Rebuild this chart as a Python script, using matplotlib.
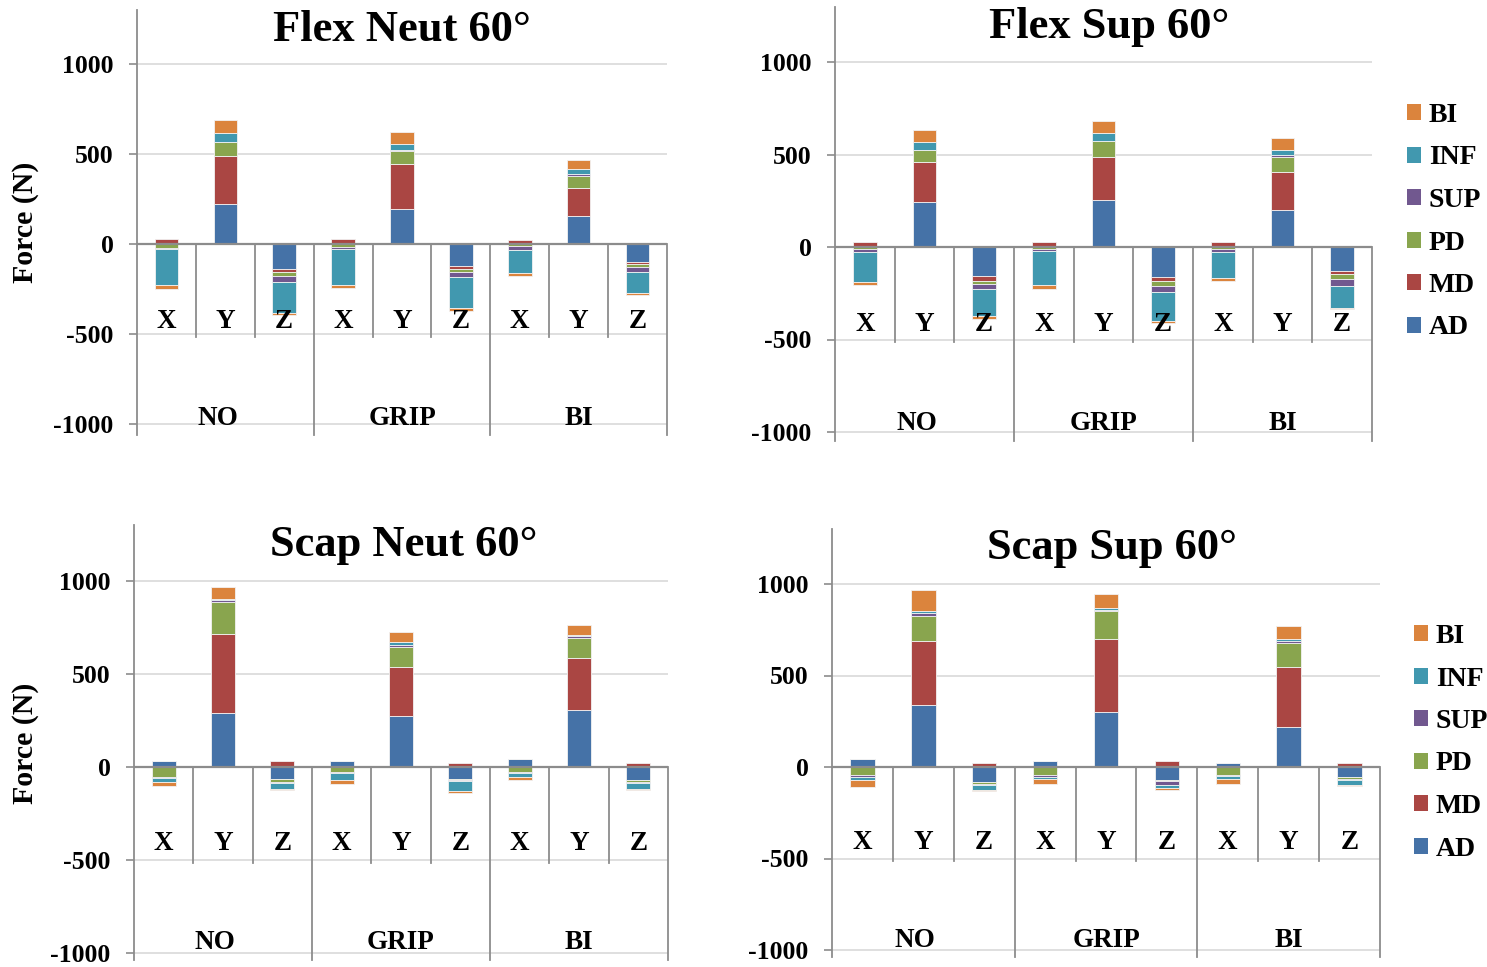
import matplotlib
matplotlib.use('Agg')
import matplotlib.pyplot as plt
from matplotlib.patches import Patch
import numpy as np

plt.rcParams['font.family'] = ['Liberation Serif', 'DejaVu Serif']
plt.rcParams['font.weight'] = 'bold'

# ---------------- data ----------------
SERIES = ['AD', 'MD', 'PD', 'SUP', 'INF', 'BI']
COLORS = ['#4572A7', '#AA4643', '#89A54E', '#71588F', '#4198AF', '#DB843D']
GROUPS = ['NO', 'GRIP', 'BI']
AXES_LABELS = ['X', 'Y', 'Z']
TITLES = ['Flex Neut 60°', 'Flex Sup 60°', 'Scap Neut 60°', 'Scap Sup 60°']
YTICKS = [-1000, -500, 0, 500, 1000]

# order: NO X, NO Y, NO Z, GRIP X, GRIP Y, GRIP Z, BI X, BI Y, BI Z
flex_neut_AD = [8, 222, -141, 8, 194, -120, 5, 157, -102]
flex_neut_MD = [22, 265, -15, 22, 248, -20, 15, 156, -9]
flex_neut_PD = [-20, 81, -20, -18, 72, -18, -13, 65, -18]
flex_neut_SUP = [-8, 0, -35, -7, 7, -26, -18, 9, -26]
flex_neut_INF = [-202, 46, -174, -200, 37, -172, -130, 28, -118]
flex_neut_BI = [-18, 74, -9, -20, 65, -18, -18, 54, -11]

flex_sup_AD = [5, 245, -155, 5, 255, -164, 5, 200, -131]
flex_sup_MD = [20, 215, -27, 20, 233, -20, 20, 205, -15]
flex_sup_PD = [-10, 64, -18, -10, 84, -25, -12, 82, -29]
flex_sup_SUP = [-15, 0, -27, -13, 0, -36, -15, 9, -35]
flex_sup_INF = [-165, 45, -145, -184, 44, -155, -138, 27, -118]
flex_sup_BI = [-18, 64, -18, -18, 64, -9, -18, 64, -9]

scap_neut_AD = [32, 290, -63, 32, 274, -63, 41, 308, -68]
scap_neut_MD = [0, 427, 32, 0, 263, 23, 0, 278, 23]
scap_neut_PD = [-54, 170, -18, -27, 108, -9, -27, 108, -13]
scap_neut_SUP = [-3, 9, -5, -5, 9, -5, -5, 9, -7]
scap_neut_INF = [-25, 9, -32, -39, 18, -54, -22, 9, -29]
scap_neut_BI = [-18, 63, -7, -18, 56, -9, -18, 54, -9]

scap_sup_AD = [42, 339, -82, 33, 302, -69, 24, 220, -55]
scap_sup_MD = [0, 350, 24, 0, 395, 33, 0, 324, 24]
scap_sup_PD = [-46, 137, -9, -46, 153, -9, -46, 135, -9]
scap_sup_SUP = [-9, 16, -7, -9, 9, -18, -3, 9, -9]
scap_sup_INF = [-18, 9, -25, -12, 9, -18, -18, 9, -24]
scap_sup_BI = [-36, 117, -9, -27, 80, -13, -27, 73, -9]

PANEL_DATA = [
    [flex_neut_AD, flex_neut_MD, flex_neut_PD, flex_neut_SUP, flex_neut_INF, flex_neut_BI],
    [flex_sup_AD, flex_sup_MD, flex_sup_PD, flex_sup_SUP, flex_sup_INF, flex_sup_BI],
    [scap_neut_AD, scap_neut_MD, scap_neut_PD, scap_neut_SUP, scap_neut_INF, scap_neut_BI],
    [scap_sup_AD, scap_sup_MD, scap_sup_PD, scap_sup_SUP, scap_sup_INF, scap_sup_BI],
]

# ---------------- layout ----------------
W, H = 1487, 967
fig = plt.figure(figsize=(W / 100, H / 100), dpi=100)

YMAX = 1300
# (left px, right px, y0 px, y1000 px, ymin, title centre px, legend anchor px or None,
#  show ylabel, sub-label y, group-label y)
LAYOUT = [
    (137, 667, 244, 64, -1060, (402, 30), None, True, -432, -970),
    (835, 1372, 247, 62, -1050, (1109, 27), (1407, 103), False, -420, -955),
    (134, 668, 767, 581, -1040, (404, 545), None, True, -412, -945),
    (832, 1380, 767, 584, -1040, (1112, 548), (1414, 624), False, -415, -950),
]

GRID_C = '#d9d9d9'
AXIS_C = '#8c8c8c'
TICK_FS = 18.5
CAT_FS = 19.5

for p, (l, r, y0, y1000, ymin, tpos, lpos, ylab, suby, grpy) in enumerate(LAYOUT):
    sc = (y0 - y1000) / 1000.0
    top = y0 - YMAX * sc
    bot = y0 - ymin * sc
    ax = fig.add_axes([l / W, 1 - bot / H, (r - l) / W, (bot - top) / H])
    n = len(GROUPS) * len(AXES_LABELS)
    x = np.arange(n)
    pos_base = np.zeros(n)
    neg_base = np.zeros(n)
    for s, (name, col) in enumerate(zip(SERIES, COLORS)):
        v = np.array(PANEL_DATA[p][s], dtype=float)
        base = np.where(v >= 0, pos_base, neg_base)
        ax.bar(x, v, bottom=base, width=0.4, color=col, edgecolor='#f2f2f2',
               linewidth=0.6, zorder=2, label=name)
        pos_base = pos_base + np.where(v >= 0, v, 0)
        neg_base = neg_base + np.where(v < 0, v, 0)

    ax.set_xlim(-0.5, n - 0.5)
    ax.set_ylim(ymin, YMAX)
    for t in YTICKS:
        if t != 0:
            ax.axhline(t, color=GRID_C, lw=1.2, zorder=0)
    ax.axhline(0, color=AXIS_C, lw=1.6, zorder=3)
    # category separators
    for k in range(1, n + 1):
        xs = k - 0.5
        if k % 3 == 0:
            ax.plot([xs, xs], [0, ymin], color=AXIS_C, lw=1.3, zorder=3, clip_on=False)
        else:
            ax.plot([xs, xs], [0, -515], color=AXIS_C, lw=1.3, zorder=3)
    for i in range(n):
        ax.text(i, suby, AXES_LABELS[i % 3], ha='center', va='center',
                fontsize=CAT_FS, fontweight='bold', zorder=4)
    for g, gname in enumerate(GROUPS):
        xg = g * 3 + 1 - (0.13 if g == 0 else 0)
        ax.text(xg, grpy, gname, ha='center', va='center',
                fontsize=CAT_FS, fontweight='bold', zorder=4)

    for sp in ['top', 'right', 'bottom']:
        ax.spines[sp].set_visible(False)
    ax.spines['left'].set_color(AXIS_C)
    ax.spines['left'].set_linewidth(1.3)
    ax.set_xticks([])
    ax.set_yticks(YTICKS)
    ax.set_yticklabels([str(t) for t in YTICKS], fontsize=TICK_FS, fontweight='bold')
    ax.tick_params(axis='y', length=6, width=1.2, color=AXIS_C, pad=11)
    ax.set_facecolor('none')
    if ylab:
        ax.set_ylabel('Force (N)', fontsize=21.5, fontweight='bold')
        ax.yaxis.set_label_coords((39 - l) / (r - l), 0.5)

    fig.text(tpos[0] / W, 1 - tpos[1] / H, TITLES[p], ha='center', va='center',
             fontsize=32, fontweight='bold')

    if lpos is not None:
        handles = [Patch(facecolor=c, edgecolor='none') for c in COLORS][::-1]
        labels = SERIES[::-1]
        fig.legend(handles, labels, loc='upper left',
                   bbox_to_anchor=(lpos[0] / W, 1 - lpos[1] / H),
                   bbox_transform=fig.transFigure, frameon=False,
                   prop={'weight': 'bold', 'size': 20},
                   handlelength=0.5, handleheight=0.5, handletextpad=0.28,
                   labelspacing=0.63, borderpad=0, borderaxespad=0)

fig.savefig('out.png', dpi=100, facecolor='white')
